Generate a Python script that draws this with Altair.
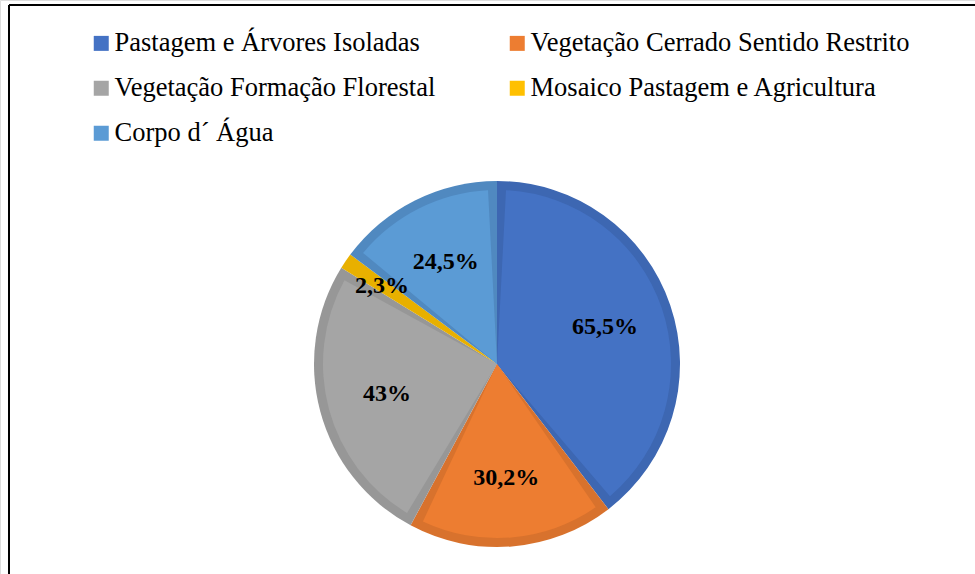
import altair as alt
import pandas as pd

categories = [
    "Pastagem e Árvores Isoladas",
    "Vegetação Cerrado Sentido Restrito",
    "Vegetação Formação Florestal",
    "Mosaico Pastagem e Agricultura",
    "Corpo d´ Água",
]
values = [65.5, 30.2, 43, 2.3, 24.5]
labels = ["65,5%", "30,2%", "43%", "2,3%", "24,5%"]
fill_colors = ["#4472C4", "#ED7D31", "#A5A5A5", "#FFC000", "#5B9BD5"]
edge_colors = ["#3D67B2", "#D8722D", "#979797", "#E8B000", "#5089C0"]

# legend is filled column by column: reorder so it reads row by row
legend_order = [0, 2, 4, 1, 3]
legend_domain = [categories[i] for i in legend_order]
legend_range = [fill_colors[i] for i in legend_order]

df = pd.DataFrame({
    "cat": categories,
    "value": values,
    "label": labels,
    "edge": edge_colors,
    "idx": list(range(len(categories))),
})

CX, CY = 497, 364
R = 183
BAND = 9
SERIF = "Times New Roman, Liberation Serif, serif"

base = alt.Chart(df).encode(
    theta=alt.Theta("value:Q", stack=True),
    order=alt.Order("idx:Q", sort="ascending"),
    x=alt.value(CX),
    y=alt.value(CY),
)

dark = base.mark_arc(outerRadius=R, innerRadius=0).encode(
    fill=alt.Fill("edge:N", scale=None),
)

light = base.mark_arc(
    outerRadius=R - BAND, innerRadius=0, padAngle=2 * BAND / (R - BAND)
).encode(
    color=alt.Color(
        "cat:N",
        scale=alt.Scale(domain=legend_domain, range=legend_range),
        legend=alt.Legend(
            orient="none",
            legendX=88,
            legendY=30,
            title=None,
            columns=2,
            symbolType="square",
            symbolSize=225,
            symbolStrokeWidth=0,
            symbolOpacity=1,
            labelFont=SERIF,
            labelFontSize=26.5,
            labelColor="black",
            labelLimit=0,
            labelOffset=0,
            columnPadding=68,
            rowPadding=18,
        ),
    ),
)

txt_big = base.transform_calculate(
    lbl="datum.value >= 5 ? datum.label : ''"
).mark_text(
    radius=114, font=SERIF, fontSize=24, fontWeight="bold", color="black"
).encode(text="lbl:N")

txt_small = base.transform_calculate(
    lbl="datum.value < 5 ? datum.label : ''"
).mark_text(
    radius=139, font=SERIF, fontSize=24, fontWeight="bold", color="black"
).encode(text="lbl:N")

frame_df = pd.DataFrame({"a": [0]})
frame_left = alt.Chart(frame_df).mark_rule(color="black", strokeWidth=2).encode(
    x=alt.value(9), y=alt.value(5), y2=alt.value(574)
)
frame_top = alt.Chart(frame_df).mark_rule(color="black", strokeWidth=2).encode(
    x=alt.value(9), x2=alt.value(975), y=alt.value(5)
)

chart = alt.layer(dark, light, txt_big, txt_small, frame_left, frame_top).properties(
    width=975,
    height=574,
    autosize=alt.AutoSizeParams(type="none"),
    padding=0,
).configure_view(stroke=None).configure(background="white")

chart.save("out.html", embed_options={"renderer": "svg", "actions": False})
